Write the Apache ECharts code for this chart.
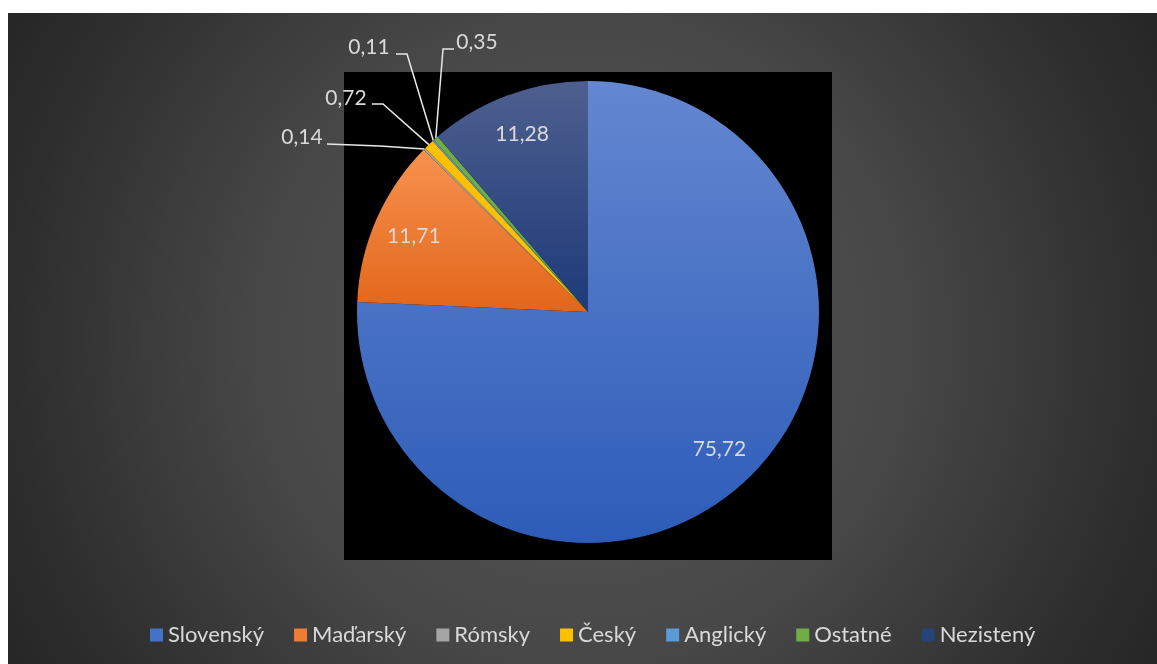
<!DOCTYPE html>
<html>
<head>
<meta charset="utf-8">
<script src="https://cdn.jsdelivr.net/npm/echarts@6/dist/echarts.min.js"></script>
<style>
    html, body {
        margin: 0;
        padding: 0;
        background: #ffffff;
    }
    #main {
        width: 1157px;
        height: 664px;
    }
</style>
</head>
<body>
<div id="main"></div>
<script>
// data (percent)
var languages = ['Slovenský', 'Maďarský', 'Rómsky', 'Český', 'Anglický', 'Ostatné', 'Nezistený'];
var shares = [75.72, 11.71, 0.14, 0.72, 0.11, 0.35, 11.28];
var baseColors = ['#4472c4', '#ed7d31', '#a5a5a5', '#ffc000', '#5b9bd5', '#70ad47', '#264478'];
// slices that get a label outside with a leader line
var outsideLabels = ['Rómsky', 'Český', 'Anglický', 'Ostatné'];

// top -> bottom shading of the big slices
var sliceShade = {
    'Slovenský': ['#6487d1', '#2d5cb8'],
    'Maďarský': ['#f7924f', '#e2661a'],
    'Nezistený': ['#4e5f8e', '#1d3a79']
};

var pieCenter = [588, 312];
var pieRadius = 231;
var innerLabelRadius = 190;

// where the small labels were dragged to in the original (label centre, knee, line end)
var labelSpots = {
    'Rómsky': { x: 302, y: 137, knee: [380, 146], end: [327, 144] },
    'Český': { x: 346, y: 98, knee: [383, 104], end: [372, 104] },
    'Anglický': { x: 369, y: 47, knee: [407, 54], end: [396, 54] },
    'Ostatné': { x: 477, y: 42, knee: [443, 49], end: [454, 49] }
};

var myChart = echarts.init(document.getElementById('main'));
var option;

var pieData = languages.map(function (name, i) {
    var item = {
        name: name,
        value: shares[i],
        itemStyle: {
            color: sliceShade[name]
                ? new echarts.graphic.LinearGradient(0, 0, 0, 1, [
                    { offset: 0, color: sliceShade[name][0] },
                    { offset: 1, color: sliceShade[name][1] }
                ])
                : baseColors[i]
        }
    };
    if (outsideLabels.indexOf(name) >= 0) {
        item.label = { position: 'outside' };
        item.labelLine = { show: true };
    } else {
        item.label = { position: 'inside' };
        item.labelLine = { show: false };
    }
    return item;
});

option = {
    animation: false,
    graphic: [
        {
            type: 'rect',
            shape: { x: 8, y: 13, width: 1149, height: 651 },
            style: {
                fill: new echarts.graphic.RadialGradient(0.5, 0.5, 1, [
                    { offset: 0, color: '#5a5a5a' },
                    { offset: 0.5, color: '#474747' },
                    { offset: 0.88, color: '#2d2d2d' },
                    { offset: 1, color: '#272727' }
                ])
            },
            silent: true
        },
        {
            // plot area
            type: 'rect',
            shape: { x: 344, y: 72, width: 488, height: 488 },
            style: { fill: '#000000' },
            silent: true
        }
    ],
    legend: {
        top: 619,
        left: 145,
        icon: 'rect',
        itemWidth: 13,
        itemHeight: 13,
        itemGap: 30,
        textStyle: {
            color: '#d9d9d9',
            fontSize: 22,
            fontFamily: 'Lato'
        },
        data: languages.map(function (name, i) {
            return { name: name, itemStyle: { color: baseColors[i] } };
        })
    },
    series: [
        {
            type: 'pie',
            center: pieCenter,
            radius: pieRadius,
            startAngle: 90,
            clockwise: true,
            avoidLabelOverlap: false,
            minShowLabelAngle: 0,
            label: {
                show: true,
                color: '#d9d9d9',
                fontSize: 21,
                fontFamily: 'Lato',
                formatter: function (p) {
                    return String(p.value).replace('.', ',');
                }
            },
            labelLine: {
                lineStyle: {
                    color: '#e8e8e8',
                    width: 1.5
                }
            },
            emphasis: { disabled: true },
            labelLayout: function (params) {
                var name = languages[params.dataIndex];
                var spot = labelSpots[name];
                if (spot) {
                    var pts = params.labelLinePoints;
                    return {
                        x: spot.x,
                        y: spot.y,
                        align: 'center',
                        verticalAlign: 'middle',
                        labelLinePoints: [pts[0], spot.knee, spot.end]
                    };
                }
                // push inside labels out toward the rim like the original
                var r = params.labelRect;
                var lx = r.x + r.width / 2;
                var ly = r.y + r.height / 2;
                var dx = lx - pieCenter[0];
                var dy = ly - pieCenter[1];
                var d = Math.sqrt(dx * dx + dy * dy) || 1;
                return {
                    x: pieCenter[0] + dx / d * innerLabelRadius,
                    y: pieCenter[1] + dy / d * innerLabelRadius,
                    align: 'center',
                    verticalAlign: 'middle'
                };
            },
            data: pieData
        }
    ]
};

option && myChart.setOption(option);
</script>
</body>
</html>
